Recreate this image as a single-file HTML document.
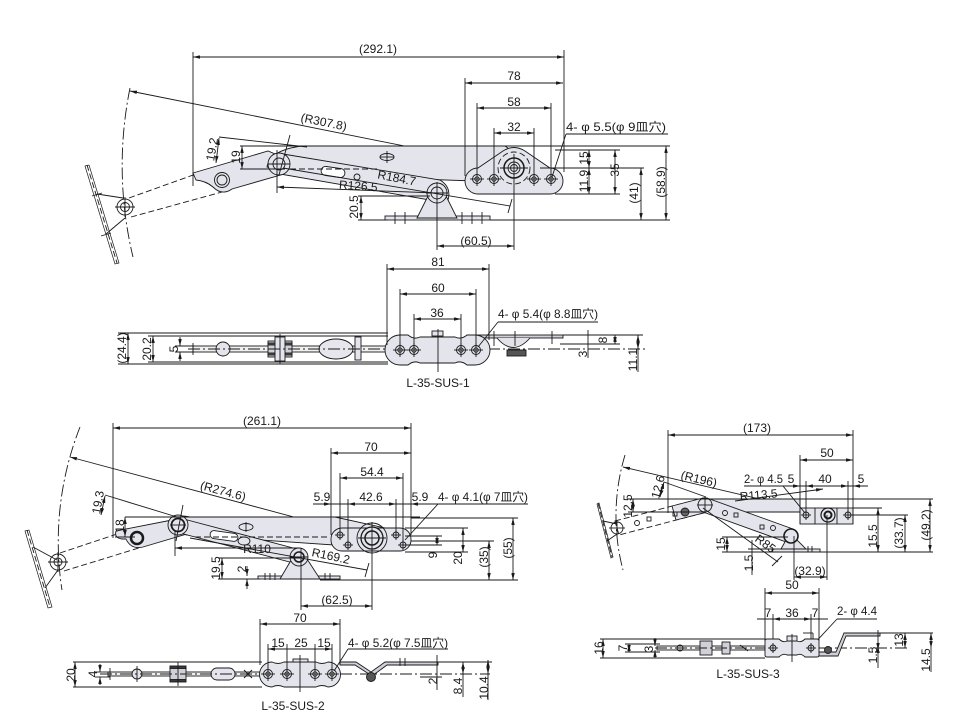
<!DOCTYPE html>
<html><head><meta charset="utf-8">
<style>
html,body{margin:0;padding:0;background:#fff;width:969px;height:726px;overflow:hidden}
svg{display:block}
text{font-family:"Liberation Sans","Noto Sans CJK JP",sans-serif;font-size:12px;fill:#1a1a1a;stroke:none}
.d{marker-start:url(#a);marker-end:url(#a)}
.s{marker-start:url(#a)}
.e{marker-end:url(#a)}
.dd{stroke-dasharray:12 3 2 3}
.ds{stroke-dasharray:6 3}
.f{fill:#e4e4ed}
.w{fill:#fff}
.g{fill:#d0d0d8}
.k{fill:#555}
</style></head><body>
<svg width="969" height="726" viewBox="0 0 969 726" xmlns="http://www.w3.org/2000/svg">
<defs>
<marker id="a" viewBox="0 0 8 4" refX="8" refY="2" markerWidth="7" markerHeight="3.5" markerUnits="userSpaceOnUse" orient="auto-start-reverse"><path d="M0,0 L8,2 L0,4z" fill="#1a1a1a"/></marker>
<g id="h" fill="none"><circle r="4.5"/><circle r="2.2"/><line x1="-7" y1="0" x2="7" y2="0"/><line x1="0" y1="-7" x2="0" y2="7"/></g>
<g id="hs" fill="none"><circle r="3"/><line x1="-5" y1="0" x2="5" y2="0"/><line x1="0" y1="-5" x2="0" y2="5"/></g>
</defs>
<g fill="none" stroke="#1a1a1a" stroke-width="0.9">

<!-- ================= DIAGRAM 1 ================= -->
<path class="dd" d="M130,88 A390,390 0 0 0 133,257"/>
<line class="s" x1="130" y1="91" x2="514" y2="168"/>
<path class="w" d="M85,166 L115,264 L119,263 L89,165 Z" stroke-width="0.7"/>
<line class="ds" x1="87" y1="165" x2="117" y2="263"/>
<line x1="92" y1="196" x2="102" y2="193"/><line x1="101" y1="236" x2="111" y2="233"/>
<line x1="97" y1="194" x2="123" y2="198"/>
<line x1="106" y1="234" x2="125" y2="218"/>
<circle cx="125" cy="207" r="8"/><circle cx="125" cy="207" r="4.5"/>
<line x1="115" y1="207" x2="135" y2="207"/><line x1="125" y1="197" x2="125" y2="217"/>
<line class="ds" x1="129" y1="198" x2="196" y2="174"/>
<line class="ds" x1="131" y1="217" x2="222" y2="192"/>

<path class="f" d="M193,173 L268,151 L287,159 L284,174 L232,189 Q222,196 213,187 Q206,181 196,180 Z"/>
<circle cx="222" cy="180" r="7.5"/><circle cx="222" cy="180" r="5"/>
<path class="f" d="M267,167 Q270,150 302,146 L505,146 L522,158 L505,182 L300,175 Z"/>
<path class="f" d="M283,154 L440,180 Q453,188 447,203 L280,174 Z"/>
<rect class="w" x="-12" y="-4.5" width="24" height="9" rx="4.5" transform="translate(333,172) rotate(8)"/>
<circle cx="357" cy="177" r="3"/>
<ellipse cx="387" cy="157" rx="7" ry="3.5"/><line x1="387" y1="151" x2="387" y2="163"/><line x1="380" y1="157" x2="394" y2="157"/>
<line class="ds" x1="290" y1="169" x2="380" y2="169"/>
<circle class="f" cx="279" cy="164" r="11"/><circle cx="279" cy="164" r="6"/>
<line x1="268" y1="164" x2="290" y2="164"/><line x1="290" y1="135" x2="279" y2="175"/>

<!-- bracket -->
<rect class="f" x="385" y="216" width="105" height="4"/>
<line x1="395" y1="212" x2="395" y2="224"/><line x1="405" y1="212" x2="405" y2="224"/>
<line x1="462" y1="212" x2="462" y2="224"/><line x1="472" y1="212" x2="472" y2="224"/><line x1="482" y1="212" x2="482" y2="224"/>
<path class="f" d="M417,218 L427,198 A12,12 0 0 1 447,198 L457,218 Z"/>
<circle class="f" cx="437" cy="193" r="10"/><circle cx="437" cy="193" r="6"/>
<line x1="426" y1="193" x2="448" y2="193"/><line x1="437" y1="182" x2="437" y2="250"/>

<!-- plate -->
<path class="f" d="M478,168 L503,151 Q514,144 525,151 L550,168 A13,13 0 0 1 550,194 L478,194 A13,13 0 0 1 478,168 Z"/>
<circle class="ds" cx="514" cy="168" r="16"/>
<circle class="f" cx="514" cy="168" r="10" stroke-width="1.5"/><circle cx="514" cy="168" r="6"/><circle cx="514" cy="168" r="3.5"/>
<line x1="500" y1="168" x2="528" y2="168"/><line x1="514" y1="154" x2="514" y2="250"/>
<use href="#h" transform="translate(477,179)"/><use href="#h" transform="translate(494,179)"/>
<use href="#h" transform="translate(534,179)"/><use href="#h" transform="translate(551,179)"/>

<!-- D1 dims -->
<line x1="193" y1="52" x2="193" y2="186"/>
<line x1="564" y1="50" x2="564" y2="172"/>
<line class="d" x1="193" y1="57" x2="564" y2="57"/>
<line x1="465" y1="78" x2="465" y2="176"/>
<line class="d" x1="465" y1="83" x2="563" y2="83"/>
<line x1="477" y1="103" x2="477" y2="172"/><line x1="551" y1="103" x2="551" y2="172"/>
<line class="d" x1="477" y1="108" x2="551" y2="108"/>
<line x1="494" y1="128" x2="494" y2="172"/><line x1="534" y1="128" x2="534" y2="172"/>
<line class="d" x1="494" y1="133" x2="534" y2="133"/>
<line x1="566" y1="134" x2="668" y2="134"/><line x1="566" y1="134" x2="552" y2="177"/>
<line x1="240" y1="146" x2="670" y2="146"/>
<line x1="240" y1="169" x2="285" y2="169"/>
<line class="d" x1="242" y1="146" x2="242" y2="169"/>
<line x1="219" y1="137" x2="307" y2="147"/>
<line class="d" x1="219" y1="138" x2="216" y2="163"/>
<line x1="277" y1="150" x2="277" y2="193"/>
<line class="s" x1="277" y1="187" x2="437" y2="193"/>
<line x1="283" y1="168" x2="510" y2="206"/><line x1="512" y1="199" x2="508" y2="213"/>
<line x1="358" y1="196" x2="430" y2="196"/><line x1="358" y1="220" x2="388" y2="220"/>
<line class="d" x1="361" y1="196" x2="361" y2="220"/>
<line x1="490" y1="220" x2="670" y2="220"/>
<line x1="555" y1="150" x2="620" y2="150"/>
<line x1="540" y1="168" x2="644" y2="168"/>
<line x1="555" y1="194" x2="620" y2="194"/>
<line class="d" x1="589" y1="150" x2="589" y2="168"/><line class="d" x1="589" y1="168" x2="589" y2="194"/>
<line class="d" x1="615" y1="150" x2="615" y2="194"/>
<line class="d" x1="641" y1="168" x2="641" y2="220"/>
<line class="d" x1="666" y1="146" x2="666" y2="220"/>
<line class="d" x1="437" y1="246" x2="514" y2="246"/>

<!-- ================= DIAGRAM 2 ================= -->
<line x1="118" y1="333" x2="388" y2="333"/>
<line x1="148" y1="336" x2="388" y2="336"/>
<line x1="148" y1="362" x2="388" y2="362"/>
<line x1="118" y1="364" x2="388" y2="364"/>
<line class="d" x1="128" y1="333" x2="128" y2="364"/>
<line class="d" x1="153" y1="336" x2="153" y2="362"/>
<line x1="175" y1="346" x2="195" y2="346"/><line x1="175" y1="352" x2="195" y2="352"/>
<line class="e" x1="180" y1="337" x2="180" y2="346"/><line class="e" x1="180" y1="361" x2="180" y2="352"/>
<rect x="193" y="346" width="195" height="6" fill="#f0f0f0"/>
<line x1="193" y1="343" x2="193" y2="355"/>
<circle class="f" cx="223" cy="349" r="7"/>
<rect class="g" x="268" y="341" width="24" height="16"/>
<rect class="k" x="268" y="343" width="24" height="2"/><rect class="k" x="268" y="353" width="24" height="2"/>
<rect class="f" x="275" y="337" width="10" height="24"/>
<line x1="280" y1="334" x2="280" y2="364"/>
<ellipse cx="336" cy="349" rx="17" ry="10" fill="#e6e6ec"/>
<rect class="f" x="355" y="337" width="6" height="23"/>
<line class="dd" x1="188" y1="349" x2="648" y2="349"/>
<!-- plate -->
<rect class="g" x="467" y="335" width="96" height="3"/>
<path d="M497,338 Q513,357 530,338" fill="#e2e2e8"/>
<rect class="k" x="507" y="350" width="19" height="6"/>
<line x1="494" y1="331" x2="494" y2="346"/><line x1="515" y1="331" x2="515" y2="346"/><line x1="552" y1="331" x2="552" y2="344"/>
<rect class="f" x="432" y="331" width="11" height="5"/>
<path class="f" d="M400,335 L408,335 Q414,340 420,337 L455,337 Q461,340 467,335 L475,335 A15,15 0 0 1 475,365 L467,365 Q461,360 455,363 L420,363 Q414,360 408,365 L400,365 A15,15 0 0 1 400,335 Z"/>
<line x1="438" y1="329" x2="438" y2="372"/>
<use href="#h" transform="translate(400,350)"/><use href="#h" transform="translate(414,350)"/>
<use href="#h" transform="translate(461,350)"/><use href="#h" transform="translate(476,350)"/>
<line x1="387" y1="264" x2="387" y2="345"/><line x1="489" y1="264" x2="489" y2="340"/>
<line class="d" x1="387" y1="269" x2="489" y2="269"/>
<line x1="400" y1="289" x2="400" y2="345"/><line x1="476" y1="289" x2="476" y2="345"/>
<line class="d" x1="400" y1="294" x2="476" y2="294"/>
<line x1="414" y1="314" x2="414" y2="345"/><line x1="461" y1="314" x2="461" y2="345"/>
<line class="d" x1="414" y1="319" x2="461" y2="319"/>
<line x1="498" y1="322" x2="598" y2="322"/><line x1="498" y1="322" x2="478" y2="347"/>
<line x1="563" y1="335" x2="643" y2="335"/>
<line x1="560" y1="344" x2="620" y2="344"/>
<line class="d" x1="615" y1="335" x2="615" y2="344"/>
<line x1="588" y1="330" x2="588" y2="358"/>
<line class="d" x1="638" y1="335" x2="638" y2="349"/><line x1="638" y1="349" x2="638" y2="372"/>

<!-- ================= DIAGRAM 3 ================= -->
<path class="dd" d="M80,427 A313,313 0 0 0 62,590"/>
<line class="s" x1="70" y1="457" x2="372" y2="538"/>
<path class="w" d="M25,531 L48,608 L52,607 L29,530 Z" stroke-width="0.7"/>
<line class="ds" x1="27" y1="530" x2="50" y2="607"/>
<line x1="33" y1="547" x2="57" y2="560"/><line x1="45" y1="588" x2="58" y2="570"/>
<circle cx="58" cy="562" r="8"/><circle cx="58" cy="562" r="4"/>
<line x1="48" y1="562" x2="68" y2="562"/><line x1="58" y1="552" x2="58" y2="572"/>
<line class="ds" x1="60" y1="553" x2="120" y2="533"/>
<line class="ds" x1="64" y1="571" x2="142" y2="547"/>
<path class="f" d="M116,531 Q114,538 122,539 L126,539 Q131,550 143,547 L190,533 L188,517 L172,520 Z"/>
<circle cx="137" cy="538" r="6" stroke-width="2.5"/>
<path class="f" d="M172,520 Q176,514 190,517 L335,517 L385,528 L378,548 L186,535 Z"/>
<path class="f" d="M176,517 L297,549 Q309,552 301,565 L180,533 Z"/>
<rect class="w" x="-14" y="-4" width="28" height="8" rx="4" transform="translate(224,536) rotate(8)"/>
<ellipse cx="244" cy="541" rx="6" ry="4"/>
<ellipse cx="246" cy="527" rx="7" ry="3.5"/><line x1="246" y1="522" x2="246" y2="532"/>
<line class="ds" x1="195" y1="537" x2="330" y2="537"/>
<circle class="f" cx="178" cy="525" r="10"/><circle cx="178" cy="525" r="6.5" stroke-width="1.8"/>
<line x1="170" y1="525" x2="186" y2="525"/><line x1="183" y1="505" x2="176" y2="541"/>
<!-- bracket -->
<rect class="f" x="258" y="576" width="82" height="3"/>
<line x1="265" y1="573" x2="265" y2="580"/><line x1="270" y1="573" x2="270" y2="580"/><line x1="275" y1="573" x2="275" y2="580"/>
<line x1="325" y1="573" x2="325" y2="580"/><line x1="330" y1="573" x2="330" y2="580"/>
<path class="f" d="M280,579 L290,562 A11,11 0 0 1 309,562 L320,579 Z"/>
<circle class="f" cx="299" cy="557" r="9"/><circle cx="299" cy="557" r="5" stroke-width="1.5"/>
<line x1="290" y1="557" x2="308" y2="557"/><line x1="301" y1="548" x2="301" y2="610"/>
<!-- plate -->
<rect class="f" x="331" y="528" width="80" height="23" rx="11"/>
<circle cx="372" cy="538" r="15"/>
<circle class="f" cx="372" cy="538" r="11" stroke-width="1.3"/><circle cx="372" cy="538" r="7" stroke-width="1.5"/>
<line x1="358" y1="538" x2="386" y2="538"/><line x1="372" y1="522" x2="372" y2="610"/>
<use href="#hs" transform="translate(340,535)"/><use href="#hs" transform="translate(348,545)"/>
<use href="#hs" transform="translate(396,535)"/><use href="#hs" transform="translate(403,545)"/>
<!-- D3 dims -->
<line x1="113" y1="423" x2="113" y2="538"/><line x1="411" y1="423" x2="411" y2="535"/>
<line class="d" x1="113" y1="428" x2="411" y2="428"/>
<line x1="331" y1="448" x2="331" y2="535"/>
<line class="d" x1="331" y1="453" x2="411" y2="453"/>
<line x1="340" y1="473" x2="340" y2="535"/><line x1="403" y1="473" x2="403" y2="545"/>
<line class="d" x1="340" y1="478" x2="403" y2="478"/>
<line x1="313" y1="504" x2="528" y2="504"/>
<line x1="348" y1="499" x2="348" y2="545"/><line x1="396" y1="499" x2="396" y2="535"/>
<line class="e" x1="320" y1="504" x2="331" y2="504"/><line class="d" x1="348" y1="504" x2="396" y2="504"/><line class="e" x1="422" y1="504" x2="411" y2="504"/>
<line x1="438" y1="504" x2="405" y2="540"/>
<line x1="125" y1="517" x2="420" y2="517"/>
<line x1="411" y1="518" x2="518" y2="518"/>
<line x1="115" y1="537" x2="135" y2="537"/>
<line class="d" x1="125" y1="517" x2="125" y2="537"/>
<line x1="105" y1="495" x2="177" y2="517"/>
<line class="d" x1="105" y1="496" x2="101" y2="515"/>
<line x1="175" y1="530" x2="175" y2="556"/>
<line class="s" x1="175" y1="548" x2="299" y2="548"/>
<line x1="190" y1="538" x2="367" y2="570"/><line x1="369" y1="563" x2="365" y2="577"/>
<line x1="218" y1="558" x2="300" y2="558"/><line x1="218" y1="579" x2="260" y2="579"/>
<line class="d" x1="222" y1="558" x2="222" y2="579"/>
<line class="e" x1="247" y1="566" x2="247" y2="576"/><line class="e" x1="247" y1="589" x2="247" y2="579"/>
<line x1="405" y1="528" x2="468" y2="528"/>
<line x1="405" y1="536" x2="442" y2="536"/><line x1="405" y1="545" x2="442" y2="545"/>
<line x1="405" y1="552" x2="468" y2="552"/>
<line x1="411" y1="541" x2="494" y2="541"/>
<line x1="320" y1="580" x2="518" y2="580"/>
<line class="d" x1="437" y1="536" x2="437" y2="545"/>
<line class="d" x1="463" y1="528" x2="463" y2="552"/>
<line class="d" x1="489" y1="541" x2="489" y2="580"/>
<line class="d" x1="513" y1="518" x2="513" y2="580"/>
<line class="d" x1="301" y1="606" x2="372" y2="606"/>

<!-- ================= DIAGRAM 4 ================= -->
<line x1="73" y1="662" x2="262" y2="662"/><line x1="73" y1="687" x2="262" y2="687"/>
<line class="d" x1="75" y1="662" x2="75" y2="687"/>
<line x1="95" y1="672" x2="110" y2="672"/><line x1="95" y1="677" x2="110" y2="677"/>
<line class="e" x1="100" y1="664" x2="100" y2="672"/><line class="e" x1="100" y1="685" x2="100" y2="677"/>
<rect x="108" y="672" width="152" height="4" fill="#f0f0f0"/>
<line x1="110" y1="668" x2="110" y2="680"/>
<circle class="f" cx="137" cy="674" r="5"/><line x1="137" y1="666" x2="137" y2="682"/>
<rect class="g" x="170" y="666" width="16" height="16"/>
<rect class="k" x="170" y="667" width="16" height="1.5"/><rect class="k" x="170" y="679.5" width="16" height="1.5"/>
<line x1="178" y1="662" x2="178" y2="686"/>
<rect class="f" x="211" y="668" width="24" height="12" rx="6"/>
<line x1="244" y1="670" x2="252" y2="678"/><line x1="244" y1="678" x2="252" y2="670"/>
<line class="dd" x1="100" y1="674" x2="490" y2="674"/>
<path class="g" d="M340,662 L356,662 L371,672 L385,662 L438,662 L438,665 L387,665 L372,676 L355,665 L340,665 Z"/>
<circle class="k" cx="371" cy="677" r="4.5"/>
<line x1="400" y1="658" x2="400" y2="666"/><line x1="405" y1="658" x2="405" y2="666"/>
<path class="f" d="M272,662 Q278,665 284,662 L316,662 Q322,665 328,662 A12.5,12.5 0 0 1 328,687 Q322,684 316,687 L284,687 Q278,684 272,687 A12.5,12.5 0 0 1 272,662 Z"/>
<rect class="f" x="293" y="659" width="15" height="3"/>
<line x1="300" y1="655" x2="300" y2="692"/>
<use href="#h" transform="translate(268,674)"/><use href="#h" transform="translate(287,674)"/>
<use href="#h" transform="translate(315,674)"/><use href="#h" transform="translate(332,674)"/>
<line x1="260" y1="619" x2="260" y2="665"/><line x1="340" y1="619" x2="340" y2="665"/>
<line class="d" x1="260" y1="624" x2="340" y2="624"/>
<line x1="268" y1="644" x2="268" y2="668"/><line x1="287" y1="644" x2="287" y2="668"/>
<line x1="315" y1="644" x2="315" y2="668"/><line x1="332" y1="644" x2="332" y2="668"/>
<line class="d" x1="268" y1="649" x2="332" y2="649"/>
<line x1="348" y1="649" x2="448" y2="649"/><line x1="348" y1="649" x2="334" y2="671"/>
<line x1="438" y1="662" x2="492" y2="662"/>
<line x1="420" y1="677" x2="442" y2="677"/>
<line x1="437" y1="655" x2="437" y2="690"/>
<line class="d" x1="463" y1="662" x2="463" y2="674"/><line x1="463" y1="674" x2="463" y2="697"/>
<line class="d" x1="488" y1="660" x2="488" y2="674"/><line x1="488" y1="674" x2="488" y2="700"/>

<!-- ================= DIAGRAM 5 ================= -->
<path class="dd" d="M625,455 A211,211 0 0 0 623,570"/>
<line class="s" x1="623" y1="467" x2="828" y2="515"/>
<path class="w" d="M597,504 L611,558 L613,557 L599,503 Z" stroke-width="0.7"/>
<line class="ds" x1="598" y1="503" x2="612" y2="557"/>
<line x1="603" y1="521" x2="617" y2="524"/><line x1="607" y1="541" x2="617" y2="534"/>
<path class="ds" d="M615,521 L703,498 L707,512 L619,535 Z"/>
<path class="f" d="M672,506 L703,498 L707,512 L676,520 Z"/>
<circle cx="617" cy="528" r="6"/><line x1="609" y1="528" x2="625" y2="528"/><line x1="617" y1="520" x2="617" y2="536"/>
<circle cx="637" cy="523" r="2.5"/><rect x="647" y="517" width="4" height="4"/><rect x="673" y="512" width="4" height="4"/>
<circle cx="685" cy="512" r="4" fill="#666"/>
<path class="f" d="M705,499 L800,499 L800,512 L725,512 Z"/>
<path class="f" d="M707,498 L793,529 L789,543 L703,512 Z"/>
<circle cx="725" cy="513" r="2.5"/><rect x="734" y="513" width="4" height="4"/>
<rect x="760" y="525" width="4" height="4"/><circle cx="773" cy="528" r="2.5"/>
<circle class="f" cx="705" cy="505" r="7"/><line x1="697" y1="505" x2="713" y2="505"/><line x1="705" y1="497" x2="705" y2="513"/>
<!-- bracket -->
<rect class="f" x="772" y="549" width="48" height="3"/>
<line x1="808" y1="546" x2="808" y2="552"/><line x1="812" y1="546" x2="812" y2="552"/>
<path class="f" d="M781,549 L786,540 A7,7 0 0 1 797,540 L806,549 Z"/>
<circle class="f" cx="791" cy="536" r="7" stroke-width="1.6"/>
<!-- plate -->
<rect class="f" x="800" y="508" width="53" height="16"/>
<line x1="815" y1="508" x2="815" y2="524"/><line x1="837" y1="508" x2="837" y2="524"/>
<use href="#hs" transform="translate(806,515)"/><use href="#hs" transform="translate(848,515)"/>
<circle class="f" cx="828" cy="515" r="7" stroke-width="1.2"/><circle cx="828" cy="515" r="3.5" stroke-width="2"/>
<!-- D5 dims -->
<line x1="668" y1="430" x2="668" y2="513"/><line x1="853" y1="430" x2="853" y2="524"/>
<line class="d" x1="668" y1="435" x2="853" y2="435"/>
<line x1="800" y1="455" x2="800" y2="524"/>
<line class="d" x1="800" y1="460" x2="853" y2="460"/>
<line x1="744" y1="486" x2="868" y2="486"/>
<line x1="806" y1="481" x2="806" y2="515"/><line x1="848" y1="481" x2="848" y2="515"/>
<line class="e" x1="792" y1="486" x2="800" y2="486"/><line class="d" x1="806" y1="486" x2="848" y2="486"/><line class="e" x1="862" y1="486" x2="853" y2="486"/>
<line x1="783" y1="486" x2="805" y2="513"/>
<line class="e" x1="735" y1="501" x2="823" y2="489"/>
<line x1="628" y1="499" x2="933" y2="499"/>
<line x1="628" y1="512" x2="705" y2="512"/>
<line class="d" x1="633" y1="499" x2="633" y2="512"/>
<line x1="664" y1="482" x2="706" y2="497"/>
<line class="d" x1="664" y1="482" x2="660" y2="497"/>
<line x1="703" y1="508" x2="778" y2="562"/><line x1="772" y1="566" x2="782" y2="556"/>
<line x1="722" y1="537" x2="788" y2="537"/>
<line x1="722" y1="552" x2="933" y2="552"/>
<line class="d" x1="727" y1="537" x2="727" y2="552"/>
<line x1="748" y1="549" x2="775" y2="549"/>
<line x1="752" y1="540" x2="752" y2="575"/>
<line x1="794" y1="536" x2="794" y2="580"/><line x1="827" y1="515" x2="827" y2="580"/>
<line class="d" x1="794" y1="577" x2="827" y2="577"/>
<line x1="853" y1="508" x2="882" y2="508"/>
<line x1="853" y1="515" x2="908" y2="515"/>
<line class="d" x1="878" y1="508" x2="878" y2="552"/>
<line class="d" x1="905" y1="515" x2="905" y2="552"/>
<line class="d" x1="930" y1="499" x2="930" y2="552"/>

<!-- ================= DIAGRAM 6 ================= -->
<line x1="765" y1="588" x2="765" y2="641"/><line x1="819" y1="588" x2="819" y2="641"/>
<line class="d" x1="765" y1="593" x2="819" y2="593"/>
<line x1="757" y1="619" x2="828" y2="619"/>
<line x1="773" y1="614" x2="773" y2="650"/><line x1="811" y1="614" x2="811" y2="650"/>
<line class="d" x1="773" y1="619" x2="811" y2="619"/>
<line x1="837" y1="619" x2="877" y2="619"/><line x1="837" y1="619" x2="812" y2="646"/>
<line x1="600" y1="639" x2="765" y2="639"/><line x1="600" y1="658" x2="765" y2="658"/>
<line class="d" x1="603" y1="639" x2="603" y2="658"/>
<line x1="625" y1="644" x2="660" y2="644"/><line x1="625" y1="652" x2="660" y2="652"/>
<line class="d" x1="629" y1="644" x2="629" y2="652"/>
<line class="e" x1="655" y1="638" x2="655" y2="646"/><line class="e" x1="655" y1="658" x2="655" y2="650"/>
<rect x="657" y="646" width="108" height="4" fill="#f0f0f0"/>
<circle cx="680" cy="648" r="3"/>
<rect class="g" x="700" y="641" width="12" height="14"/><rect class="g" x="722" y="642" width="8" height="12"/>
<line x1="740" y1="645" x2="748" y2="651"/>
<line class="dd" x1="655" y1="648" x2="910" y2="648"/>
<path class="g" d="M819,652 L836,652 L844,633 L880,633 L880,636 L846,636 L838,656 L819,656 Z"/>
<circle class="k" cx="828" cy="650" r="3.5"/>
<line x1="803" y1="633" x2="813" y2="633"/><line x1="813" y1="633" x2="813" y2="640"/>
<path class="f" d="M765,641 Q765,639 767,639 L779,639 Q783,643 787,641 L797,641 Q801,643 805,639 L817,639 Q819,639 819,641 L819,655 Q819,657 817,657 L805,657 Q801,653 797,655 L787,655 Q783,653 779,657 L767,657 Q765,657 765,655 Z"/>
<rect class="f" x="787" y="636" width="10" height="5"/>
<line x1="792" y1="634" x2="792" y2="662"/>
<use href="#hs" transform="translate(773,648)"/><use href="#hs" transform="translate(811,648)"/>
<line x1="880" y1="633" x2="933" y2="633"/>
<line class="d" x1="905" y1="633" x2="905" y2="648"/>
<line class="d" x1="878" y1="646" x2="878" y2="650"/><line x1="878" y1="630" x2="878" y2="668"/>
<line class="d" x1="931" y1="633" x2="931" y2="648"/><line x1="931" y1="648" x2="931" y2="672"/>
</g>

<!-- ================= TEXT ================= -->
<!-- D1 -->
<text x="378" y="53" text-anchor="middle">(292.1)</text>
<text x="514" y="80" text-anchor="middle">78</text>
<text x="514" y="106" text-anchor="middle">58</text>
<text x="514" y="131" text-anchor="middle">32</text>
<text x="566" y="131" textLength="100" lengthAdjust="spacingAndGlyphs">4- φ 5.5(φ 9皿穴)</text>
<text transform="translate(323,126) rotate(11.4)" text-anchor="middle">(R307.8)</text>
<text transform="translate(216,150) rotate(-80)" text-anchor="middle">19.2</text>
<text transform="translate(240,157) rotate(-90)" text-anchor="middle">19</text>
<text transform="translate(396,182) rotate(11)" text-anchor="middle">R184.7</text>
<text transform="translate(358,190) rotate(4)" text-anchor="middle">R126.5</text>
<text transform="translate(358,207) rotate(-90)" text-anchor="middle">20.5</text>
<text x="476" y="245" text-anchor="middle">(60.5)</text>
<text transform="translate(588,158) rotate(-90)" text-anchor="middle">15</text>
<text transform="translate(588,181) rotate(-90)" text-anchor="middle">11.9</text>
<text transform="translate(619,170) rotate(-90)" text-anchor="middle">35</text>
<text transform="translate(638,193) rotate(-90)" text-anchor="middle">(41)</text>
<text transform="translate(665,182) rotate(-90)" text-anchor="middle">(58.9)</text>
<!-- D2 -->
<text x="438" y="266" text-anchor="middle">81</text>
<text x="438" y="292" text-anchor="middle">60</text>
<text x="437" y="317" text-anchor="middle">36</text>
<text x="498" y="318" textLength="100" lengthAdjust="spacingAndGlyphs">4- φ 5.4(φ 8.8皿穴)</text>
<text transform="translate(126,348) rotate(-90)" text-anchor="middle">(24.4)</text>
<text transform="translate(151,349) rotate(-90)" text-anchor="middle">20.2</text>
<text transform="translate(178,349) rotate(-90)" text-anchor="middle">5</text>
<text transform="translate(607,340) rotate(-90)" text-anchor="middle">8</text>
<text transform="translate(587,354) rotate(-90)" text-anchor="middle">3</text>
<text transform="translate(637,360) rotate(-90)" text-anchor="middle">11.1</text>
<text x="438" y="387" text-anchor="middle">L-35-SUS-1</text>
<!-- D3 -->
<text x="262" y="425" text-anchor="middle">(261.1)</text>
<text x="371" y="451" text-anchor="middle">70</text>
<text x="372" y="476" text-anchor="middle">54.4</text>
<text x="322" y="501" text-anchor="middle">5.9</text>
<text x="371" y="501" text-anchor="middle">42.6</text>
<text x="420" y="501" text-anchor="middle">5.9</text>
<text x="438" y="501" textLength="90" lengthAdjust="spacingAndGlyphs">4- φ 4.1(φ 7皿穴)</text>
<text transform="translate(222,495) rotate(15)" text-anchor="middle">(R274.6)</text>
<text transform="translate(102,503) rotate(-80)" text-anchor="middle">19.3</text>
<text transform="translate(124,526) rotate(-90)" text-anchor="middle">18</text>
<text x="257" y="553" text-anchor="middle">R110</text>
<text transform="translate(330,560) rotate(12)" text-anchor="middle">R169.2</text>
<text transform="translate(220,568) rotate(-90)" text-anchor="middle">19.5</text>
<text transform="translate(246,569) rotate(-90)" text-anchor="middle">2</text>
<text transform="translate(437,555) rotate(-90)" text-anchor="middle">9</text>
<text transform="translate(462,558) rotate(-90)" text-anchor="middle">20</text>
<text transform="translate(488,557) rotate(-90)" text-anchor="middle">(35)</text>
<text transform="translate(512,548) rotate(-90)" text-anchor="middle">(55)</text>
<text x="337" y="604" text-anchor="middle">(62.5)</text>
<!-- D4 -->
<text x="300" y="622" text-anchor="middle">70</text>
<text x="278" y="647" text-anchor="middle">15</text>
<text x="301" y="647" text-anchor="middle">25</text>
<text x="324" y="647" text-anchor="middle">15</text>
<text x="348" y="647" textLength="100" lengthAdjust="spacingAndGlyphs">4- φ 5.2(φ 7.5皿穴)</text>
<text transform="translate(75,675) rotate(-90)" text-anchor="middle">20</text>
<text transform="translate(97,674) rotate(-90)" text-anchor="middle">4</text>
<text transform="translate(437,681) rotate(-90)" text-anchor="middle">2</text>
<text transform="translate(462,686) rotate(-90)" text-anchor="middle">8.4</text>
<text transform="translate(488,688) rotate(-90)" text-anchor="middle">10.4</text>
<text x="293" y="710" text-anchor="middle">L-35-SUS-2</text>
<!-- D5 -->
<text x="757" y="432" text-anchor="middle">(173)</text>
<text x="827" y="457" text-anchor="middle">50</text>
<text x="744" y="483" textLength="39" lengthAdjust="spacingAndGlyphs">2- φ 4.5</text>
<text x="791" y="483" text-anchor="middle">5</text>
<text x="825" y="483" text-anchor="middle">40</text>
<text x="861" y="483" text-anchor="middle">5</text>
<text transform="translate(698,483) rotate(13)" text-anchor="middle">(R196)</text>
<text transform="translate(759,499) rotate(-5)" text-anchor="middle">R113.5</text>
<text transform="translate(662,488) rotate(-75)" text-anchor="middle">12.6</text>
<text transform="translate(632,506) rotate(-90)" text-anchor="middle">12.5</text>
<text transform="translate(763,547) rotate(36)" text-anchor="middle">R85</text>
<text transform="translate(725,544) rotate(-90)" text-anchor="middle">15</text>
<text transform="translate(753,563) rotate(-90)" text-anchor="middle">1.5</text>
<text x="810" y="575" text-anchor="middle">(32.9)</text>
<text transform="translate(877,536) rotate(-90)" text-anchor="middle">15.5</text>
<text transform="translate(903,533) rotate(-90)" text-anchor="middle">(33.7)</text>
<text transform="translate(930,525) rotate(-90)" text-anchor="middle">(49.2)</text>
<!-- D6 -->
<text x="792" y="589" text-anchor="middle">50</text>
<text x="768" y="617" text-anchor="middle">7</text>
<text x="792" y="617" text-anchor="middle">36</text>
<text x="815" y="617" text-anchor="middle">7</text>
<text x="837" y="615" textLength="40" lengthAdjust="spacingAndGlyphs">2- φ 4.4</text>
<text transform="translate(603,648) rotate(-90)" text-anchor="middle">16</text>
<text transform="translate(627,648) rotate(-90)" text-anchor="middle">7</text>
<text transform="translate(653,649) rotate(-90)" text-anchor="middle">3</text>
<text transform="translate(903,640) rotate(-90)" text-anchor="middle">13</text>
<text transform="translate(877,655) rotate(-90)" text-anchor="middle">1.5</text>
<text transform="translate(930,660) rotate(-90)" text-anchor="middle">14.5</text>
<text x="748" y="678" text-anchor="middle">L-35-SUS-3</text>
</svg>
</body></html>
